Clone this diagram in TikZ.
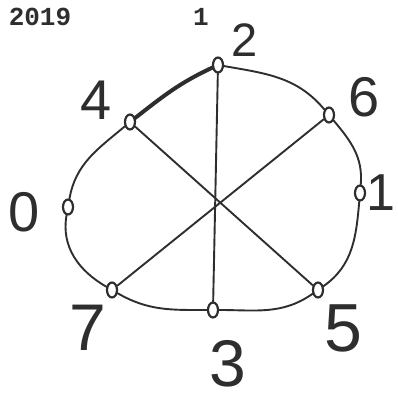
\documentclass[tikz,border=0pt]{standalone}
\usepackage{fontspec}
\setmainfont{Liberation Sans}
\newfontfamily\stampfont{Liberation Mono}
\usetikzlibrary{shapes.geometric}
\definecolor{penInk}{HTML}{2E2E2E}
\tikzset{
  pen line/.style={draw=penInk, line width=1.9pt, line cap=round},
  pen heavy/.style={draw=penInk, line width=4pt, line cap=round},
  pen vertex/.style={ellipse, draw=penInk, fill=white, line width=2.2pt, minimum width=10pt, minimum height=15pt, inner sep=0pt},
  pen label/.style={font=\fontsize{#1}{#1}\selectfont, text=penInk, inner sep=0pt},
  stamp/.style={font=\stampfont\bfseries\fontsize{26}{26}\selectfont, text=penInk, inner sep=0pt},
}
\begin{document}
\begin{tikzpicture}[x=1pt,y=1pt]
  \useasboundingbox (0,0) rectangle (398,408);
  % header
  \node[stamp] (year) at (40,391) {2019};
  \node[stamp] (page) at (201,391) {1};
  % vertices round the loop
  \node[pen vertex] (v2) at (218,343) {};
  \node[pen vertex] (v6) at (329,293) {};
  \node[pen vertex] (v1) at (360,215) {};
  \node[pen vertex] (v5) at (318,118) {};
  \node[pen vertex] (v3) at (213,98) {};
  \node[pen vertex] (v7) at (112,118) {};
  \node[pen vertex] (v0) at (68,201) {};
  \node[pen vertex] (v4) at (130,286) {};
  % handwritten numbers
  \node[pen label=47] (l2) at (245,368) {2};
  \node[pen label=56] (l6) at (364,311) {6};
  \node[pen label=52, anchor=east] (l1) at (396,215) {1};
  \node[pen label=68] (l5) at (343,80) {5};
  \node[pen label=66] (l3) at (228,44) {3};
  \node[pen label=66] (l7) at (88,80) {7};
  \node[pen label=56] (l0) at (24,196) {0};
  \node[pen label=56] (l4) at (96,308) {4};
  % outer loop
  \draw[pen line] (v2) to[out=-10,in=130] (v6);
  \draw[pen line] (v6) to[out=-50,in=85] (v1);
  \draw[pen line] (v1) to[out=-95,in=35] (v5);
  \draw[pen line] (v5) to[out=-145,in=0] (v3);
  \draw[pen line] (v3) to[out=180,in=-30] (v7);
  \draw[pen line] (v7) to[out=150,in=-100] (v0);
  \draw[pen line] (v0) to[out=80,in=-140] (v4);
  \draw[pen heavy] (v4) to[out=38,in=205] (v2);
  % chords
  \draw[pen line] (v2) -- (v3);
  \draw[pen line] (v4) -- (v5);
  \draw[pen line] (v6) -- (v7);
\end{tikzpicture}
\end{document}
